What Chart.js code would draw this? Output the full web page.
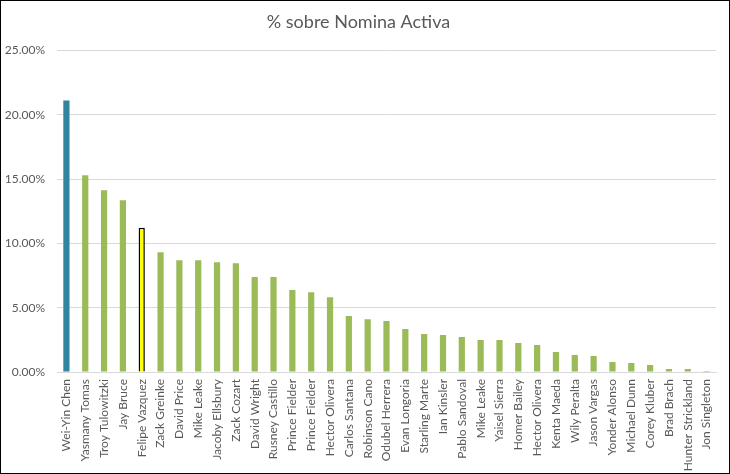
<!DOCTYPE html>
<html>
<head>
<meta charset="utf-8">
<script src="https://cdn.jsdelivr.net/npm/chart.js@4.4.0/dist/chart.umd.min.js"></script>
<style>
  html, body { margin: 0; padding: 0; background: #fff; }
  #wrap { width: 730px; height: 474px; box-sizing: border-box; border: 1px solid #000; position: relative; }
  canvas { display: block; }
</style>
</head>
<body>
<div id="wrap"><canvas id="chart" width="728" height="472"></canvas></div>
<script>
// Players along the x axis
const players = [
  'Wei-Yin Chen', 'Yasmany Tomas', 'Troy Tulowitzki', 'Jay Bruce', 'Felipe Vazquez',
  'Zack Greinke', 'David Price', 'Mike Leake', 'Jacoby Ellsbury', 'Zack Cozart',
  'David Wright', 'Rusney Castillo', 'Prince Fielder', 'Prince Fielder', 'Hector Olivera',
  'Carlos Santana', 'Robinson Cano', 'Odubel Herrera', 'Evan Longoria', 'Starling Marte',
  'Ian Kinsler', 'Pablo Sandoval', 'Mike Leake', 'Yaisel Sierra', 'Homer Bailey',
  'Hector Olivera', 'Kenta Maeda', 'Wily Peralta', 'Jason Vargas', 'Yonder Alonso',
  'Michael Dunn', 'Corey Kluber', 'Brad Brach', 'Hunter Strickland', 'Jon Singleton'
];

// % of active payroll
const pctNomina = [
  21.12, 15.30, 14.13, 13.35, 11.23,
  9.32, 8.70, 8.70, 8.54, 8.46,
  7.38, 7.38, 6.37, 6.21, 5.82,
  4.35, 4.11, 3.96, 3.34, 2.95,
  2.87, 2.72, 2.48, 2.48, 2.25,
  2.10, 1.55, 1.32, 1.24, 0.78,
  0.70, 0.54, 0.23, 0.23, 0.08
];

const yTicks = [0, 5, 10, 15, 20, 25];

// which bars get a special colour
const topIndex = 0;
const markedIndex = 4;

const ctx = document.getElementById('chart').getContext('2d');
const chart = new Chart(ctx, {
  type: 'bar',
  data: {
    labels: players,
    datasets: [{
      label: '% sobre Nomina Activa',
      data: pctNomina,
      backgroundColor: c => c.dataIndex === topIndex ? '#31859C' : (c.dataIndex === markedIndex ? '#FFFF00' : '#9BBB59'),
      borderColor: c => c.dataIndex === markedIndex ? '#000000' : 'rgba(0,0,0,0)',
      borderWidth: c => c.dataIndex === markedIndex ? 1.5 : 0,
      barPercentage: 0.33,
      categoryPercentage: 1.0
    }]
  },
  options: {
    responsive: false,
    animation: false,
    layout: { padding: { left: 0, right: 13, top: 0, bottom: 0 } },
    plugins: {
      legend: { display: false },
      tooltip: { enabled: false },
      title: {
        display: true,
        text: '% sobre Nomina Activa',
        color: '#595959',
        font: { family: 'Lato', size: 18, weight: 'normal' },
        padding: { top: 10, bottom: 18 }
      }
    },
    scales: {
      x: {
        grid: { display: false, drawTicks: false },
        border: { display: true, color: '#D9D9D9' },
        ticks: {
          color: '#595959',
          font: { family: 'Lato', size: 12 },
          minRotation: 90,
          maxRotation: 90,
          autoSkip: false,
          padding: 7
        },
        afterFit: s => { s.height = 101; }
      },
      y: {
        min: 0,
        max: 25,
        grid: { color: '#D9D9D9', drawTicks: false },
        border: { display: false },
        afterBuildTicks: s => { s.ticks = yTicks.map(v => ({ value: v })); },
        ticks: {
          color: '#595959',
          font: { family: 'Lato', size: 12 },
          padding: 12,
          callback: v => v.toFixed(2) + '%'
        },
        afterFit: s => { s.width = 56; }
      }
    }
  }
});
</script>
</body>
</html>
